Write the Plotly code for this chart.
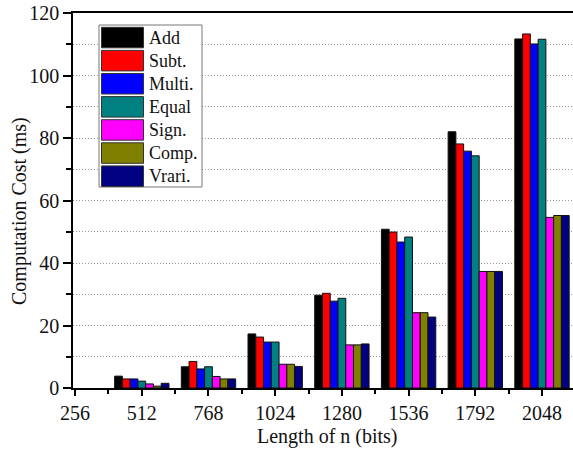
import plotly.graph_objects as go

bit_lengths = [512, 768, 1024, 1280, 1536, 1792, 2048]
tick_values = [256, 512, 768, 1024, 1280, 1536, 1792, 2048]
series_names = ["Add", "Subt.", "Multi.", "Equal", "Sign.", "Comp.", "Vrari."]
add_vals = [3.8, 6.8, 17.3, 29.7, 50.8, 82.0, 111.7]
subt_vals = [2.9, 8.5, 16.3, 30.3, 49.9, 78.1, 113.3]
multi_vals = [2.9, 6.1, 14.7, 27.8, 46.7, 75.8, 110.1]
equal_vals = [2.2, 6.8, 14.7, 28.7, 48.3, 74.3, 111.6]
sign_vals = [1.3, 3.7, 7.6, 13.8, 24.1, 37.3, 54.6]
comp_vals = [0.6, 2.9, 7.6, 13.8, 24.1, 37.3, 55.2]
vrari_vals = [1.5, 2.9, 6.9, 14.1, 22.7, 37.3, 55.2]
series_values = [add_vals, subt_vals, multi_vals, equal_vals, sign_vals, comp_vals, vrari_vals]
colors = ["#000000", "#FF0000", "#0000FF", "#008080", "#FF00FF", "#808000", "#000080"]

FONT = "Liberation Serif"
W, H = 573, 452
ML, MR, MT, MB = 73, 0, 13, 64
PW, PH = W - ML - MR, H - MT - MB

fig = go.Figure()
for name, vals, col in zip(series_names, series_values, colors):
    fig.add_trace(go.Bar(x=bit_lengths, y=vals, name=name, marker_color=col,
                         marker_line=dict(color="#111111", width=1), showlegend=False))

def px2paper(px, py):
    return (px - ML) / PW, (H - MB - py) / PH

shapes = []
annotations = []
# legend box
x0, y0 = px2paper(99, 25)
x1, y1 = px2paper(202, 187)
shapes.append(dict(type="rect", xref="paper", yref="paper", x0=x0, x1=x1, y0=y1, y1=y0,
                   line=dict(color="#777777", width=1), fillcolor="white", layer="above"))
step = 23.1
for i, (name, col) in enumerate(zip(series_names, colors)):
    top = 27.3 + step * i
    sx0, sy0 = px2paper(101.5, top)
    sx1, sy1 = px2paper(143.5, top + 20.5)
    shapes.append(dict(type="rect", xref="paper", yref="paper", x0=sx0, x1=sx1, y0=sy1, y1=sy0,
                       line=dict(color="#333333", width=1), fillcolor=col, layer="above"))
    tx, ty = px2paper(147, top + 10.5)
    annotations.append(dict(xref="paper", yref="paper", x=tx, y=ty, text=name, showarrow=False,
                            xanchor="left", yanchor="middle",
                            font=dict(family=FONT, size=18, color="#111111")))

# axis titles
tx, ty = px2paper(19, 211)
annotations.append(dict(xref="paper", yref="paper", x=tx, y=ty, text="Computation Cost (ms)",
                        textangle=-90, showarrow=False, xanchor="center", yanchor="middle",
                        font=dict(family=FONT, size=20, color="#111111")))
tx, ty = px2paper(327, 436)
annotations.append(dict(xref="paper", yref="paper", x=tx, y=ty, text="Length of n (bits)",
                        showarrow=False, xanchor="center", yanchor="middle",
                        font=dict(family=FONT, size=20, color="#111111")))

fig.update_layout(
    width=W, height=H, autosize=False,
    margin=dict(l=ML, r=MR, t=MT, b=MB),
    paper_bgcolor="white", plot_bgcolor="white",
    barmode="group", bargap=0.185, bargroupgap=0,
    shapes=shapes, annotations=annotations,
    font=dict(family=FONT, size=20, color="#111111"),
)
fig.update_xaxes(
    range=[248, 2167], tickvals=tick_values, ticktext=[str(v) for v in tick_values],
    ticks="outside", ticklen=6, tickwidth=1.5, tickcolor="black",
    showline=True, linecolor="black", linewidth=1.5, mirror=True,
    showgrid=False, zeroline=False,
    tickfont=dict(family=FONT, size=20, color="#111111"),
    minor=dict(tick0=128, dtick=256, ticks="outside", ticklen=4, tickwidth=1.5, tickcolor="black"),
)
fig.update_yaxes(
    range=[0, 120], dtick=20, tick0=0,
    ticks="outside", ticklen=8, tickwidth=1.5, tickcolor="black",
    showline=True, linecolor="black", linewidth=1.5,
    showgrid=True, gridcolor="#999999", gridwidth=1, griddash="1px,2px",
    zeroline=False,
    tickfont=dict(family=FONT, size=20, color="#111111"),
    minor=dict(dtick=10, ticks="outside", ticklen=5, tickwidth=1.5, tickcolor="black",
               showgrid=True, gridcolor="#999999", gridwidth=1, griddash="1px,2px"),
)

fig.write_html("out.html")
